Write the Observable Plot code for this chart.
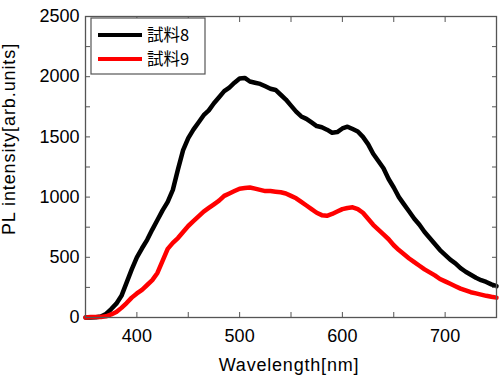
<!DOCTYPE html>
<html>
<head>
<meta charset="utf-8">
<script src="https://cdn.jsdelivr.net/npm/d3@7"></script>
<script src="https://cdn.jsdelivr.net/npm/@observablehq/plot@0.6"></script>
<style>
  html, body { margin: 0; padding: 0; background: #fff; }
  #chart svg { display: block; }
</style>
</head>
<body>
<div id="chart"></div>
<script>
const seriesNames = ["試料8", "試料9"];
const seriesColors = ["#000000", "#ff0000"];
const wavelengths = [350,355,360,365,370,375,380,385,390,395,400,405,410,415,420,425,430,435,440,445,450,455,460,465,470,475,480,485,490,495,500,505,510,515,520,525,530,535,540,545,550,555,560,565,570,575,580,585,590,595,600,605,610,615,620,625,630,635,640,645,650,655,660,665,670,675,680,685,690,695,700,705,710,715,720,725,730,735,740,745,750];
const sample8 = [0,0,2,8,30,70,115,180,290,400,500,575,645,730,810,890,960,1060,1230,1390,1490,1560,1620,1680,1720,1780,1830,1880,1910,1950,1985,1990,1960,1950,1940,1920,1900,1890,1850,1810,1760,1710,1670,1650,1620,1590,1580,1560,1535,1540,1570,1585,1565,1545,1500,1440,1360,1300,1240,1150,1080,1000,940,880,820,770,710,660,610,560,520,480,450,410,380,355,330,310,295,275,260];
const sample9 = [0,5,5,5,10,25,45,80,120,165,200,230,270,310,370,470,570,620,660,710,760,800,840,880,910,940,970,1010,1030,1050,1070,1075,1080,1070,1060,1050,1050,1045,1040,1030,1010,990,960,930,900,870,850,845,860,880,900,910,915,900,870,820,770,730,690,650,600,560,525,490,460,430,400,375,350,320,300,280,260,240,225,210,200,190,180,172,165];
const xMajorTicks = [400, 500, 600, 700];
const xMinorTicks = [350,400,450,500,550,600,650,700,750];
const yMajorTicks = [0, 500, 1000, 1500, 2000, 2500];
const yMinorTicks = [0,250,500,750,1000,1250,1500,1750,2000,2250,2500];
const xLabel = "Wavelength[nm]";
const yLabel = "PL intensity[arb.units]";

const rows = [];
[sample8, sample9].forEach((vals, s) => {
  vals.forEach((v, i) => rows.push({series: seriesNames[s], wl: wavelengths[i], v}));
});

const axisColor = "#555";
const fontFam = "'Liberation Sans', Arial, sans-serif";

const chart = Plot.plot({
  width: 501,
  height: 380,
  marginLeft: 85,
  marginRight: 5,
  marginTop: 16,
  marginBottom: 63,
  style: {fontFamily: fontFam, fontSize: "18px", color: "#000", background: "#fff"},
  x: {domain: [350, 750]},
  y: {domain: [0, 2500]},
  color: {domain: seriesNames, range: seriesColors},
  marks: [
    Plot.line(rows, {x: "wl", y: "v", z: "series", stroke: "series", strokeWidth: 4.5, strokeLinejoin: "round"}),
    Plot.axisX(xMinorTicks, {anchor: "bottom", tickSize: -5, text: null, stroke: axisColor, label: null}),
    Plot.axisX(xMinorTicks, {anchor: "top", tickSize: -5, text: null, stroke: axisColor, label: null}),
    Plot.axisY(yMinorTicks, {anchor: "left", tickSize: -5, text: null, stroke: axisColor, label: null}),
    Plot.axisY(yMinorTicks, {anchor: "right", tickSize: -5, text: null, stroke: axisColor, label: null}),
    Plot.axisX(xMajorTicks, {anchor: "bottom", tickSize: 0, tickPadding: 12, label: null, fill: "#000", tickFormat: d => String(d)}),
    Plot.axisY(yMajorTicks, {anchor: "left", tickSize: 0, tickPadding: 6, label: null, fill: "#000", tickFormat: d => String(d)}),
    Plot.frame({stroke: axisColor, strokeWidth: 1.3})
  ]
});

document.getElementById("chart").appendChild(chart);

const svg = d3.select(chart);
// axis titles
svg.append("text")
  .attr("x", 289).attr("y", 371)
  .attr("text-anchor", "middle")
  .style("font-family", fontFam).style("font-size", "18px").style("letter-spacing", "0.8px")
  .attr("fill", "#000")
  .text(xLabel);
svg.append("text")
  .attr("transform", "translate(15,139) rotate(-90)")
  .attr("text-anchor", "middle")
  .style("font-family", fontFam).style("font-size", "18px").style("letter-spacing", "0.9px")
  .attr("fill", "#000")
  .text(yLabel);

// legend
const lg = svg.append("g").attr("text-anchor", "start");
lg.append("rect").attr("x", 91).attr("y", 18).attr("width", 114).attr("height", 56)
  .attr("fill", "#fff").attr("stroke", axisColor).attr("stroke-width", 1.2);
seriesNames.forEach((name, i) => {
  const yy = 35 + i * 24;
  lg.append("line").attr("x1", 98).attr("x2", 142).attr("y1", yy).attr("y2", yy)
    .attr("stroke", seriesColors[i]).attr("stroke-width", 4);
  lg.append("text").attr("x", 147).attr("y", yy + 6)
    .attr("text-anchor", "start")
    .style("font-family", "'Noto Sans CJK JP', sans-serif").style("font-size", "16.5px")
    .attr("fill", "#000").text(name);
});
</script>
</body>
</html>
